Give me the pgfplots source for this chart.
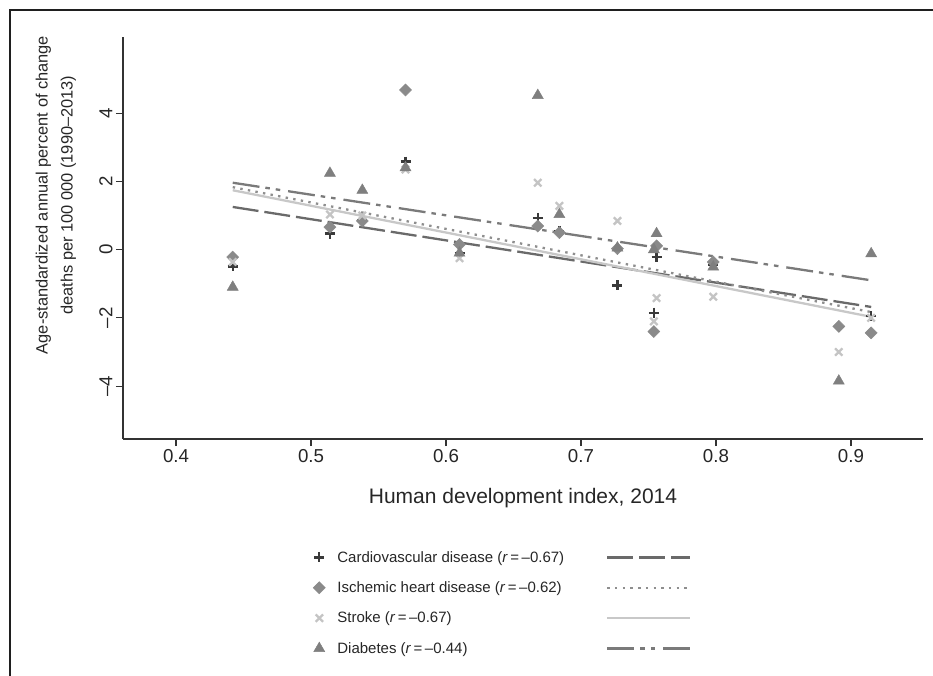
\documentclass[border=0pt]{standalone}
\usepackage{fontspec}
\setmainfont{Liberation Sans}
\usepackage{pgfplots}
\pgfplotsset{compat=1.18}

\definecolor{cvdc}{HTML}{3A3A3A}
\definecolor{ihdc}{HTML}{8A8A8A}
\definecolor{strc}{HTML}{C4C4C4}
\definecolor{diac}{HTML}{7F7F7F}
\definecolor{cvdl}{HTML}{6A6A6A}
\definecolor{ihdl}{HTML}{8E8E8E}
\definecolor{strl}{HTML}{C8C8C8}
\definecolor{dial}{HTML}{7A7A7A}

% HDI 2014 vs annual percent change
\pgfplotstableread{
hdi    cvd    ihd    str    dia
0.442  -0.49  -0.22  -0.36  -1.10
0.514   0.47   0.66   1.03   2.24
0.538   0.85   0.84   1.00   1.74
0.570   2.58   4.68   2.35   2.40
0.610  -0.10   0.15  -0.25  -0.10
0.668   0.93   0.69   1.96   4.52
0.684   0.55   0.50   1.28   1.03
0.727  -1.05   0.03   0.84   0.05
0.754  -1.85  -2.40  -2.10   0.00
0.756  -0.22   0.11  -1.42   0.47
0.798  -0.45  -0.36  -1.38  -0.51
0.891  -2.26  -2.25  -3.00  -3.85
0.915  -1.95  -2.44  -2.00  -0.12
}\hdidata

\begin{document}
\begin{tikzpicture}[x=1bp,y=1bp]
\path[use as bounding box] (0,0) rectangle (933,-676);
\draw[line width=2bp, color=black!88] (10,-676) -- (10,-10) -- (933,-10);
\begin{axis}[
  at={(123bp,-439bp)}, anchor=south west,
  scale only axis, width=800bp, height=402bp,
  xmin=0.3607, xmax=0.9534, ymin=-5.55, ymax=6.23,
  axis x line*=bottom, axis y line*=left,
  axis line style={-, color=black!80, line width=1.2bp},
  tick align=outside, major tick length=7bp,
  tick style={color=black!80, line width=1.2bp},
  xtick={0.4,0.5,0.6,0.7,0.8,0.9},
  xticklabels={0.4,0.5,0.6,0.7,0.8,0.9},
  ytick={-4,-2,0,2,4},
  yticklabels={–4,–2,0,2,4},
  tick label style={font=\fontsize{18.7bp}{22bp}\selectfont, color=black!85},
  yticklabel style={rotate=90, anchor=south},
  xlabel={Human development index, 2014},
  xlabel style={at={(axis description cs:0.5,-0.1592)}, anchor=base,
    font=\fontsize{21bp}{25bp}\selectfont, color=black!85},
  ylabel={Age-standardized annual percent of change\\deaths per 100 000 (1990–2013)},
  ylabel style={at={(axis description cs:-0.084,0.607)}, anchor=center,
    align=center, font=\fontsize{16.4bp}{25bp}\selectfont, color=black!85},
  legend columns=2, legend cell align=left,
  legend style={at={(axis description cs:0.2375,-0.2737)}, anchor=north west,
    draw=none, fill=none, inner sep=0pt, row sep=14bp,
    font=\fontsize{15bp}{18bp}\selectfont, text=black!85,
    /tikz/column 1/.style={column sep=10bp},
    /tikz/column 2/.style={column sep=40bp}},
  mk/.style={legend image code/.code={\draw[##1] plot coordinates {(0bp,0bp)};}},
  ln/.style={legend image code/.code={\draw[##1] (0bp,0bp) -- (83bp,0bp);}},
]
\addplot[mk, only marks, mark=+, mark size=5bp, color=cvdc,
  mark options={line width=2.4bp}] table[x=hdi, y=cvd] {\hdidata};
\addlegendentry{Cardiovascular disease (\textit{r}\,=\,–0.67)}
\addplot[ln, color=cvdl, line width=2.3bp, dash pattern=on 26bp off 6bp]
  coordinates {(0.442,1.25) (0.915,-1.68)};
\addlegendentry{\mbox{}}
\addplot[mk, only marks, mark=square*, mark size=4.3bp, color=ihdc,
  mark options={rotate=45}] table[x=hdi, y=ihd] {\hdidata};
\addlegendentry{Ischemic heart disease (\textit{r}\,=\,–0.62)}
\addplot[ln, color=ihdl, line width=2.3bp, dash pattern=on 2.4bp off 5.3bp]
  coordinates {(0.442,1.83) (0.915,-1.83)};
\addlegendentry{\mbox{}}
\addplot[mk, only marks, mark=x, mark size=5.2bp, color=strc,
  mark options={line width=2.3bp}] table[x=hdi, y=str] {\hdidata};
\addlegendentry{Stroke (\textit{r}\,=\,–0.67)}
\addplot[ln, color=strl, line width=2.3bp]
  coordinates {(0.442,1.74) (0.915,-1.97)};
\addlegendentry{\mbox{}}
\addplot[mk, only marks, mark=triangle*, mark size=6.4bp, color=diac]
  table[x=hdi, y=dia] {\hdidata};
\addlegendentry{Diabetes (\textit{r}\,=\,–0.44)}
\addplot[ln, color=dial, line width=2.3bp,
  dash pattern=on 27bp off 6bp on 4.5bp off 6bp on 4.5bp off 8bp]
  coordinates {(0.442,1.96) (0.915,-0.90)};
\addlegendentry{\mbox{}}
\end{axis}
\end{tikzpicture}
\end{document}
